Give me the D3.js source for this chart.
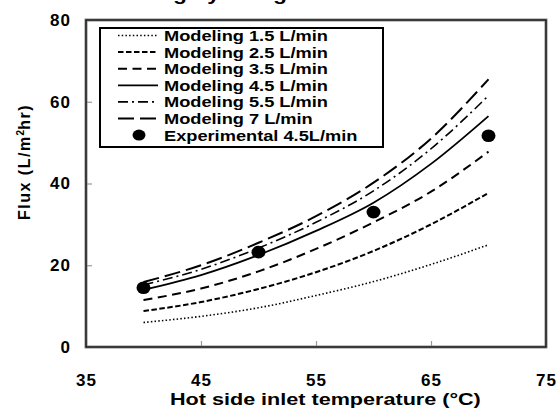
<!DOCTYPE html>
<meta charset="utf-8">
<head>
    <title>Flux vs hot side inlet temperature</title>
    <script src="https://d3js.org/d3.v7.min.js"></script>
</head>

<style>
body { margin: 0; background: #fff; }
svg { font-family: "Liberation Sans", Arial, sans-serif; font-weight: bold; }
</style>

<body>
<svg></svg>
<script>

// temperatures (x) for the modeled curves
let temps = [40, 45, 50, 55, 60, 65, 70];

// modeled flux for each flow rate
let flow15 = [6.0, 7.5, 9.6, 12.6, 16.0, 20.2, 25.0];
let flow25 = [8.8, 11.0, 14.2, 18.3, 23.5, 30.0, 37.7];
let flow35 = [11.5, 14.3, 18.5, 24.0, 30.5, 38.0, 47.8];
let flow45 = [14.0, 17.6, 22.5, 28.4, 35.3, 44.8, 56.5];
let flow55 = [15.2, 19.0, 24.2, 30.5, 38.2, 48.5, 61.5];
let flow70 = [15.9, 20.0, 25.5, 32.0, 40.2, 51.0, 65.5];

// experimental points at 4.5 L/min
let expTemps = [40, 50, 60, 70];
let expFlux = [14.5, 23.2, 33.0, 51.7];

let xTicks = [35, 45, 55, 65, 75];
let yTicks = [0, 20, 40, 60, 80];

let seriesNames = ["Modeling 1.5 L/min", "Modeling 2.5 L/min", "Modeling 3.5 L/min",
                   "Modeling 4.5 L/min", "Modeling 5.5 L/min", "Modeling 7 L/min"];
let expName = "Experimental 4.5L/min";

let series = [flow15, flow25, flow35, flow45, flow55, flow70];
let styles = [
  {dash: "1.5,2.2", w: 1.6},
  {dash: "5.5,2.5", w: 2},
  {dash: "9,5.5", w: 2},
  {dash: null, w: 1.8},
  {dash: "10,4,2,4", w: 1.6},
  {dash: "16,6", w: 2}
];

let width = 559, height = 410;
let margin = {top: 20, right: 13, bottom: 63, left: 86};
let pw = width - margin.left - margin.right;
let ph = height - margin.top - margin.bottom;

let svg = d3.select("svg")
    .attr("width", width)
    .attr("height", height);

// the original picture's text is a bit stretched sideways
function wideText(parent, tx, ty, sx, size, str) {
  return parent.append("text")
    .attr("transform", "translate(" + tx + "," + ty + ") scale(" + sx + ",1)")
    .style("font-size", size + "px")
    .text(str);
}

// title, cut off by the top of the picture (only descenders show)
wideText(svg, 87, 0, 1.2, 19, "Modeling by using");

let g = svg.append("g")
    .attr("transform", "translate(" + margin.left + "," + margin.top + ")");

let x = d3.scaleLinear().domain([35, 75]).range([0, pw]);
let y = d3.scaleLinear().domain([0, 80]).range([ph, 0]);

// axes with inward gray ticks
let xAxis = g.append("g")
    .attr("transform", "translate(0," + ph + ")")
    .call(d3.axisBottom(x).tickValues(xTicks).tickSizeInner(-6).tickSizeOuter(0).tickPadding(27).tickFormat(d3.format("d")));
let yAxis = g.append("g")
    .call(d3.axisLeft(y).tickValues(yTicks).tickSizeInner(-6).tickSizeOuter(0).tickPadding(15).tickFormat(d3.format("d")));

[xAxis, yAxis].forEach(a => {
  a.select(".domain").remove();
  a.selectAll(".tick line").attr("stroke", "#999").attr("stroke-width", 1.2);
  a.selectAll(".tick text")
    .attr("fill", "#000")
    .style("font-size", "17px")
    .style("letter-spacing", "1px")
    .style("font-weight", "bold")
    .style("font-family", "'Liberation Sans', Arial, sans-serif");
});

// plot frame
g.append("rect")
    .attr("x", 0).attr("y", 0)
    .attr("width", pw).attr("height", ph)
    .attr("fill", "none")
    .attr("stroke", "#888")
    .attr("stroke-width", 3);
g.append("rect")
    .attr("x", 0).attr("y", 0)
    .attr("width", pw).attr("height", ph)
    .attr("fill", "none")
    .attr("stroke", "#111")
    .attr("stroke-width", 1.3);

// modeled curves
let line = d3.line()
    .x(d => x(d[0]))
    .y(d => y(d[1]))
    .curve(d3.curveMonotoneX);

series.forEach((vals, i) => {
  g.append("path")
    .datum(temps.map((t, j) => [t, vals[j]]))
    .attr("d", line)
    .attr("fill", "none")
    .attr("stroke", "#000")
    .attr("stroke-width", styles[i].w)
    .attr("stroke-dasharray", styles[i].dash);
});

// experimental points
g.selectAll(".exp")
  .data(expTemps.map((t, j) => [t, expFlux[j]]))
  .enter()
  .append("ellipse")
  .attr("class", "exp")
  .attr("cx", d => x(d[0]))
  .attr("cy", d => y(d[1]))
  .attr("rx", 7)
  .attr("ry", 6.3)
  .attr("fill", "#000");

// legend
let lg = svg.append("g").attr("transform", "translate(100,28)");
lg.append("rect")
    .attr("width", 283).attr("height", 119)
    .attr("fill", "#fff")
    .attr("stroke", "#000")
    .attr("stroke-width", 2);

let rowH = 16.6;
seriesNames.forEach((name, i) => {
  let yy = 7.5 + i * rowH;
  lg.append("line")
    .attr("x1", 18).attr("x2", 58)
    .attr("y1", yy).attr("y2", yy)
    .attr("stroke", "#000")
    .attr("stroke-width", styles[i].w)
    .attr("stroke-dasharray", styles[i].dash);
  wideText(lg, 64, yy + 5.5, 1.2, 15.2, name);
});
let ey = 7.5 + 6 * rowH;
lg.append("ellipse")
    .attr("cx", 39).attr("cy", ey)
    .attr("rx", 6.5).attr("ry", 5.5)
    .attr("fill", "#000");
wideText(lg, 64, ey + 5.5, 1.2, 15.2, expName);

// axis titles
wideText(svg, 170, 405, 1.27, 17, "Hot side inlet temperature (°C)");

let yt = svg.append("text")
    .attr("transform", "translate(30,162) rotate(-90)")
    .attr("text-anchor", "middle")
    .style("font-size", "16px")
    .style("letter-spacing", "1.5px");
yt.append("tspan").text("Flux (L/m");
yt.append("tspan").attr("dy", -6).style("font-size", "10px").style("letter-spacing", "0px").text("2");
yt.append("tspan").attr("dy", 6).text("hr)");

</script>
</body>
